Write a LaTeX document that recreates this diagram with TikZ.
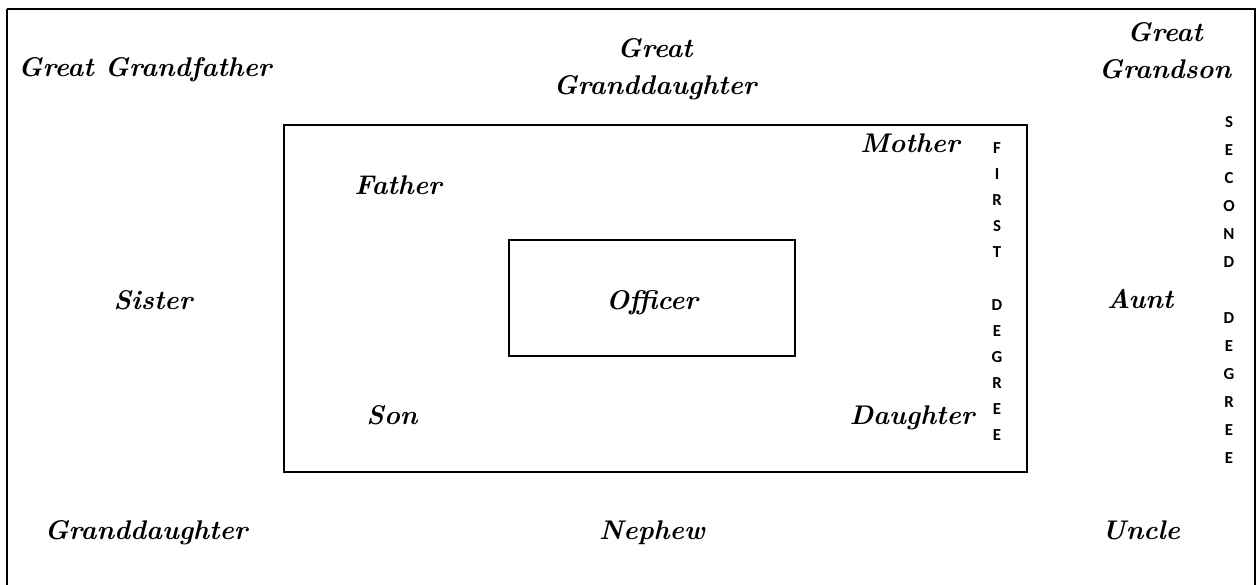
\documentclass[tikz,border=0pt]{standalone}
\usepackage{fontspec}
\newfontfamily\degreefont{Carlito}
\tikzset{
  kin/.style={font=\fontsize{13.5}{18.5}\selectfont\bfseries\itshape, inner sep=0pt, anchor=base},
  kintwo/.style={font=\fontsize{13.5}{18.5}\selectfont\bfseries\itshape, inner sep=0pt, align=center},
  degreeletters/.style={font=\degreefont\bfseries\fontsize{8.4}{#1}\selectfont, inner sep=0pt, align=center}
}
\begin{document}
\begin{tikzpicture}[x=0.5pt,y=-0.5pt,line width=0.75pt]
    \useasboundingbox (0,0) rectangle (1256,584);
    %Frames
    \draw (7,9) -- (1255,9) -- (1255,600) (7,9) -- (7,600);
    \draw (284,125) rectangle (1027,472);
    \draw (509,240) rectangle (795,356);
    %Outer ring
    \node[kin] (greatgrandfather) at (145,76) {Great Grandfather};
    \node[kintwo] (greatgranddaughter) at (655,69) {Great\\Granddaughter};
    \node[kintwo] (greatgrandson) at (1165,51) {Great\\Grandson};
    \node[kin] (sister) at (153,309) {Sister};
    \node[kin] (aunt) at (1140,308) {Aunt};
    \node[kin] (granddaughter) at (146,539) {Granddaughter};
    \node[kin] (nephew) at (652,539) {Nephew};
    \node[kin] (uncle) at (1141,539) {Uncle};
    %Inner ring
    \node[kin] (father) at (398,194) {Father};
    \node[kin] (mother) at (910,152) {Mother};
    \node[kin] (son) at (392,424) {Son};
    \node[kin] (daughter) at (912,424) {Daughter};
    \node[kin] (officer) at (652,309) {Officer};
    %Degrees
    \node[degreeletters=13.05] (firstdegree) at (997,291.5)
      {F\\I\\R\\S\\T\\[13.05pt]D\\E\\G\\R\\E\\E};
    \node[degreeletters=14] (seconddegree) at (1229,290)
      {S\\E\\C\\O\\N\\D\\[14pt]D\\E\\G\\R\\E\\E};
\end{tikzpicture}
\end{document}
